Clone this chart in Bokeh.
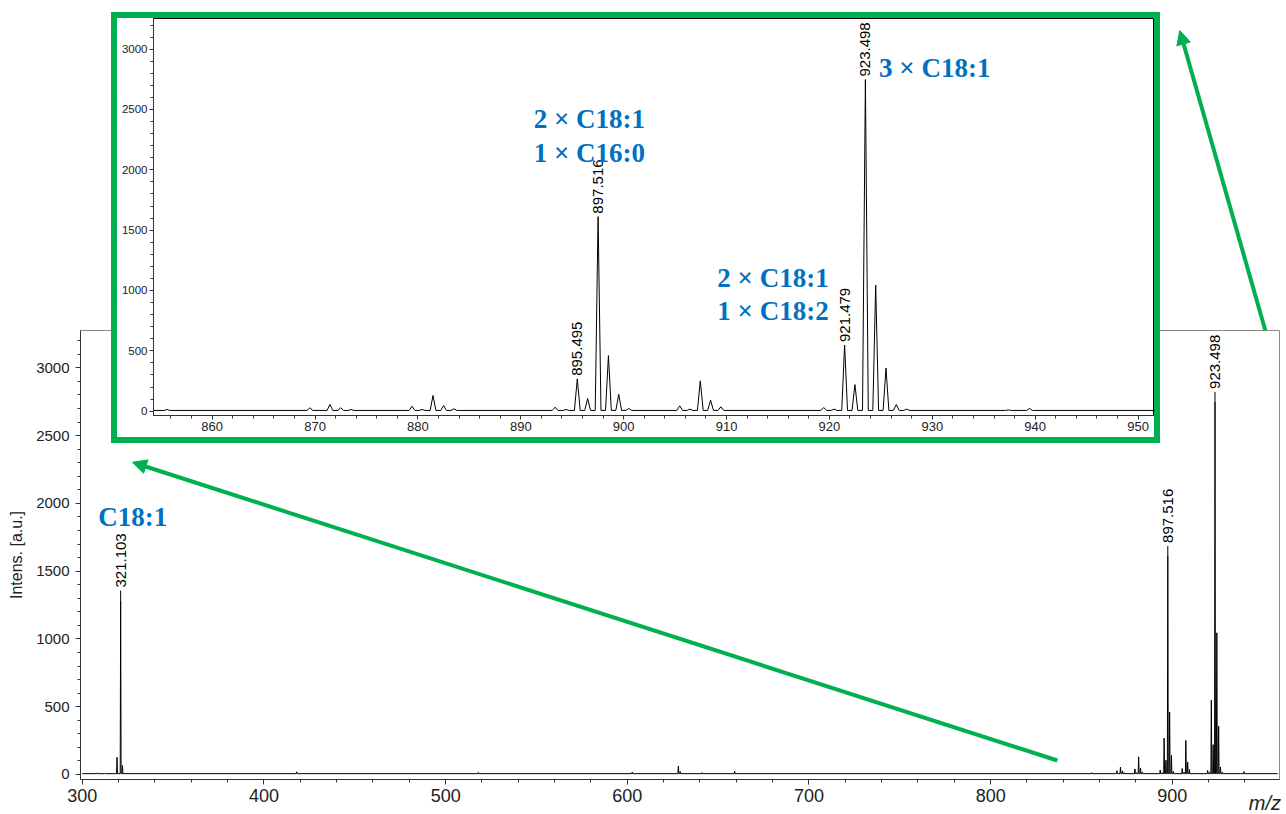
import numpy as np
from bokeh.plotting import figure
from bokeh.layouts import column
from bokeh.models import Range1d, FixedTicker, Arrow, NormalHead, ColumnDataSource
from bokeh.core.properties import value
from bokeh.embed import file_html
from bokeh.resources import INLINE

# ---------------- data ----------------
peak_mz = [308.0, 312.5, 319.1, 321.103, 322.1, 418.0, 518.0, 602.7, 628.1, 629.1,
           641.0, 659.1, 855.6, 869.5, 871.45, 872.5, 873.5, 879.43, 880.4, 881.47,
           882.5, 883.5, 893.34, 894.4, 895.495, 896.5, 897.516, 898.52, 899.52, 900.5,
           905.45, 906.45, 907.45, 908.45, 909.45, 919.45, 920.45, 921.479, 922.48,
           923.498, 924.5, 925.5, 926.5, 927.5, 937.4, 939.45]
peak_int = [12, 10, 127, 1283, 66, 20, 15, 18, 62, 22,
            14, 24, 14, 28, 55, 28, 14, 41, 14, 130,
            47, 19, 33, 14, 268, 105, 1612, 460, 140, 22,
            44, 17, 251, 91, 36, 30, 17, 548, 220,
            2748, 1045, 357, 55, 17, 10, 22]
baseline_level = 6

main_label_mz = [321.103, 897.516, 923.498]
inset_label_mz = [895.495, 897.516, 921.479, 923.498]

main_x_ticks = [300, 400, 500, 600, 700, 800, 900]
main_y_ticks = [0, 500, 1000, 1500, 2000, 2500, 3000]
inset_x_ticks = [860, 870, 880, 890, 900, 910, 920, 930, 940, 950]
inset_y_ticks = [0, 500, 1000, 1500, 2000, 2500, 3000]

GREEN = "#00b050"
BLUE = "#0070c0"
SANS = "Liberation Sans"
SERIF = "Liberation Serif"

# page / frame geometry (pixels)
W, H = 1286, 814
FL, FR, FT, FB = 80, 1279, 330, 779          # main plot frame
MX0, MX1, MY0, MY1 = 299.0, 959.0, -37.0, 3275.0
BW = 6                                        # green border width
IN_L, IN_T, IN_W, IN_H = 117, 18, 1037, 419   # inset canvas (inside the green border)


def profile(x0, x1, half_width):
    xs, ys = [x0], [baseline_level]
    for m, h in sorted(zip(peak_mz, peak_int)):
        xs += [m - half_width, m, m + half_width]
        ys += [baseline_level, h, baseline_level]
    xs.append(x1)
    ys.append(baseline_level)
    return xs, ys


def height_of(m):
    return peak_int[peak_mz.index(m)]


def style_axes(fig, xfs, yfs, tick_out, minor_out, x_stand, y_stand):
    for ax in (fig.xaxis[0], fig.yaxis[0]):
        ax.major_tick_in = 0
        ax.minor_tick_in = 0
        ax.major_tick_out = tick_out
        ax.minor_tick_out = minor_out
        ax.axis_line_color = "#333333"
        ax.major_tick_line_color = "#333333"
        ax.minor_tick_line_color = "#333333"
        ax.major_label_text_font = SANS
        ax.major_label_text_color = "#222222"
    fig.xaxis[0].major_label_text_font_size = xfs
    fig.yaxis[0].major_label_text_font_size = yfs
    fig.xaxis[0].major_label_standoff = x_stand
    fig.yaxis[0].major_label_standoff = y_stand


# ---------------- main spectrum ----------------
p = figure(width=W, height=H, x_range=Range1d(MX0, MX1), y_range=Range1d(MY0, MY1),
           output_backend="svg", toolbar_location=None,
           min_border_left=FL, min_border_right=W - FR, min_border_top=FT,
           min_border_bottom=H - FB)
p.frame_align = False
p.xgrid.visible = False
p.ygrid.visible = False
p.outline_line_color = "#8a8a8a"
p.background_fill_color = "white"
p.border_fill_color = "white"

mx, my = profile(300, 958, 0.25)
p.line(mx, my, line_color="black", line_width=1)

p.xaxis.ticker = FixedTicker(ticks=main_x_ticks, minor_ticks=list(range(300, 960, 20)))
p.yaxis.ticker = FixedTicker(ticks=main_y_ticks, minor_ticks=list(range(0, 3300, 100)))
style_axes(p, "18px", "15px", 5, 3, 4, 6)
p.yaxis.axis_label = "Intens. [a.u.]"
p.yaxis.axis_label_text_font = SANS
p.yaxis.axis_label_text_font_style = "normal"
p.yaxis.axis_label_text_font_size = "16px"
p.yaxis.axis_label_text_color = "#222222"
p.yaxis.axis_label_standoff = 8

msrc = ColumnDataSource(dict(x=main_label_mz, y=[height_of(m) for m in main_label_mz],
                             t=[f"{m:.3f}" for m in main_label_mz]))
p.ray(x="x", y="y", length=10, length_units="screen", angle=np.pi / 2,
      line_color="black", line_width=1, source=msrc)
p.text(x="x", y="y", text="t", angle=np.pi / 2, text_align="left", text_baseline="middle",
       y_offset=-13, text_font=value(SANS), text_font_size="15px", text_color="black", source=msrc)

p.text(x=[308.8], y=[1898], text=["C18:1"], text_font=value(SERIF), text_font_style="bold",
       text_font_size="27px", text_color=BLUE, text_align="left", text_baseline="alphabetic")

p.add_layout(Arrow(end=NormalHead(size=14, fill_color=GREEN, line_color=GREEN, line_width=1),
                   x_start=836.7, y_start=103, x_end=327.6, y_end=2303,
                   line_color=GREEN, line_width=4))

# ---------------- inset (zoom 854-952) ----------------
q = figure(width=IN_W, height=IN_H, x_range=Range1d(854.3, 951.6), y_range=Range1d(-36, 3254),
           output_backend="svg", toolbar_location=None,
           min_border_left=36, min_border_right=0, min_border_top=0, min_border_bottom=22,
           margin=(-(H - IN_T), 0, 0, IN_L),
           styles={"outline": f"{BW}px solid {GREEN}", "outline-offset": "0px",
                   "background-color": "white"})
q.frame_align = False
q.xgrid.visible = False
q.ygrid.visible = False
q.outline_line_color = "black"
q.background_fill_color = "white"
q.border_fill_color = "white"

ix, iy = profile(854.0, 952.0, 0.28)
q.line(ix, iy, line_color="black", line_width=1)

q.xaxis.ticker = FixedTicker(ticks=inset_x_ticks, minor_ticks=list(range(854, 952, 2)))
q.yaxis.ticker = FixedTicker(ticks=inset_y_ticks, minor_ticks=list(range(0, 3300, 100)))
style_axes(q, "13px", "11.5px", 4, 3, 2, 2)

isrc = ColumnDataSource(dict(x=inset_label_mz, y=[height_of(m) for m in inset_label_mz],
                             t=[f"{m:.3f}" for m in inset_label_mz]))
q.text(x="x", y="y", text="t", angle=np.pi / 2, text_align="left", text_baseline="middle",
       y_offset=-3, text_font=value(SANS), text_font_size="15px", text_color="black", source=isrc)

ann_kw = dict(text_font=value(SERIF), text_font_style="bold", text_font_size="27px",
              text_color=BLUE, text_align="left", text_baseline="alphabetic")
q.text(x=[891.26, 891.26], y=[2417, 2140], text=["2 × C18:1", "1 × C16:0"], **ann_kw)
q.text(x=[909.1, 909.1], y=[1107, 832], text=["2 × C18:1", "1 × C18:2"], **ann_kw)
q.text(x=[924.83], y=[2843], text=["3 × C18:1"], **ann_kw)

# ---------------- transparent overlay sharing the main data coordinates ----------------
sx = (MX1 - MX0) / (FR - FL)
sy = (MY1 - MY0) / (FB - FT)
r = figure(width=W, height=H,
           x_range=Range1d(MX0 - FL * sx, MX1 + (W - FR) * sx),
           y_range=Range1d(MY0 - (H - FB) * sy, MY1 + FT * sy),
           output_backend="svg", toolbar_location=None, x_axis_type=None, y_axis_type=None,
           min_border=0, margin=(-(IN_T + IN_H), 0, 0, 0))
r.frame_align = False
r.grid.visible = False
r.outline_line_color = None
r.background_fill_alpha = 0
r.border_fill_alpha = 0

r.add_layout(Arrow(end=NormalHead(size=14, fill_color=GREEN, line_color=GREEN, line_width=1),
                   x_start=951.2, y_start=3275, x_end=904.1, y_end=5488,
                   line_color=GREEN, line_width=4))
r.text(x=[959.8], y=[-212], text=["m/z"], text_font=value(SANS), text_font_style="italic",
       text_font_size="20px", text_color="#222222", text_align="right",
       text_baseline="alphabetic")

layout = column(p, q, r)
open("out.html", "w").write(file_html(layout, INLINE))
